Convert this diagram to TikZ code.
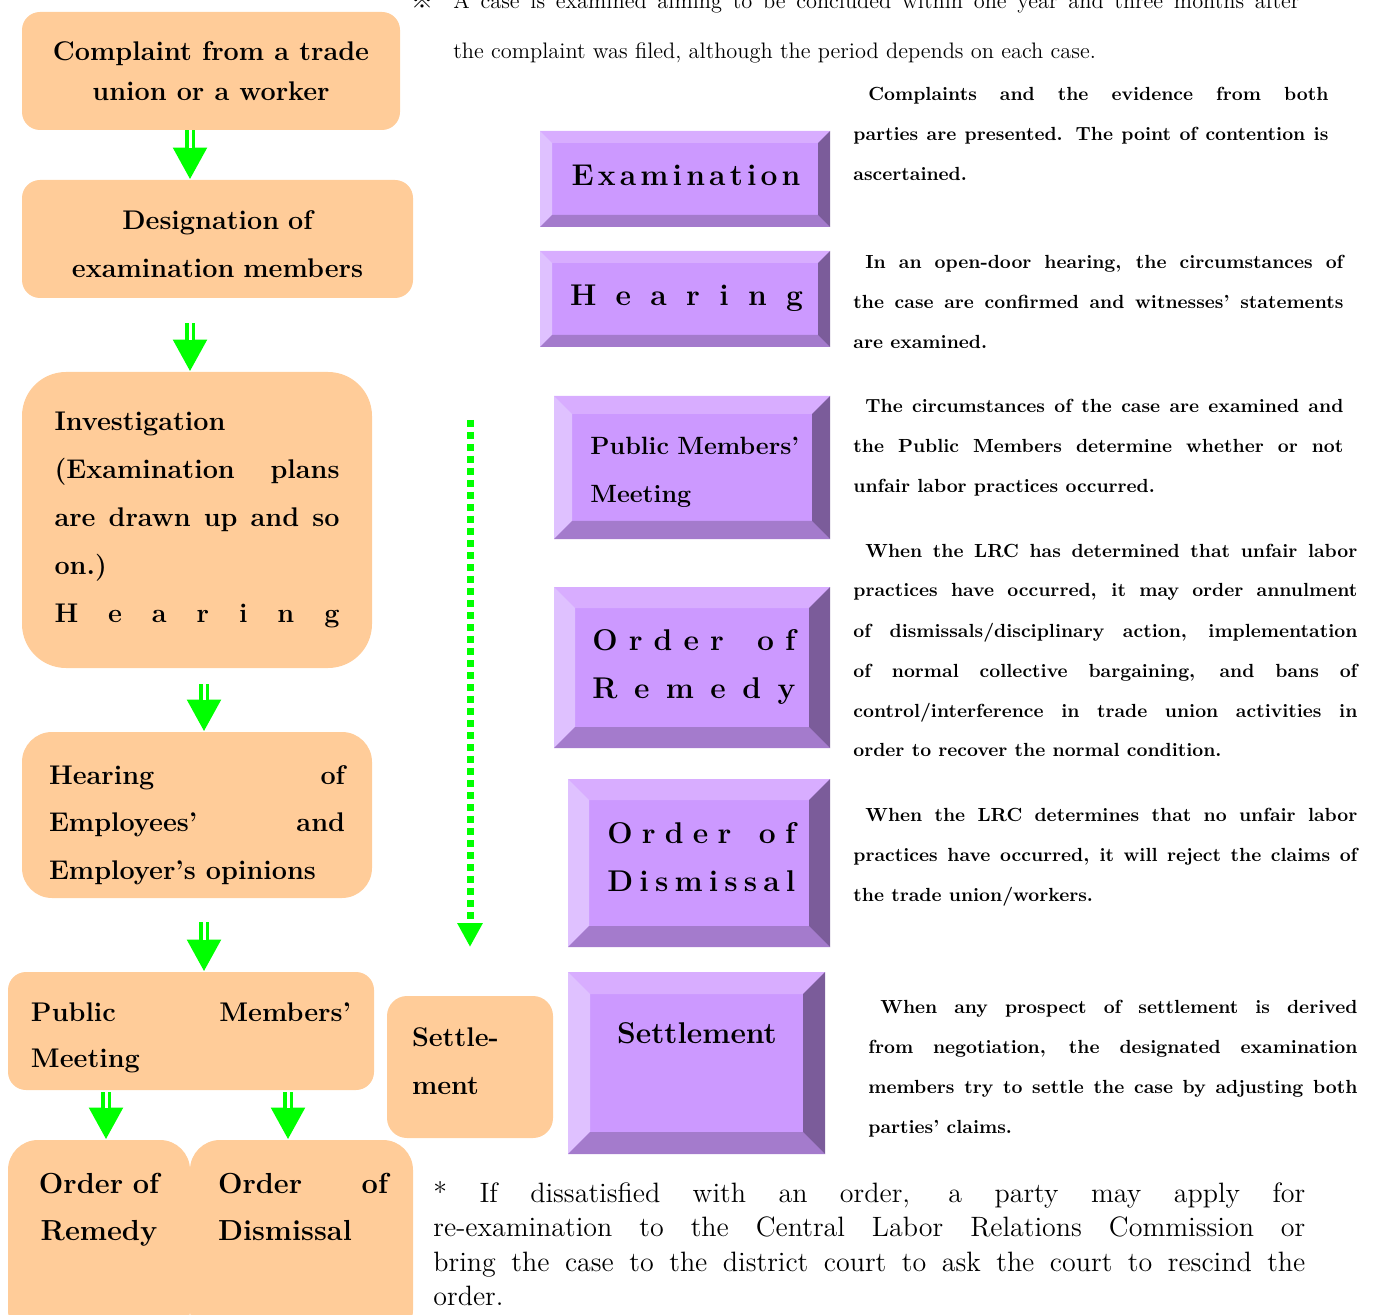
\documentclass[tikz,border=0pt]{standalone}
\usepackage{fontspec}
\newfontfamily\cjkfont{Noto Sans CJK JP}
\usetikzlibrary{arrows.meta}
\definecolor{boxorange}{HTML}{FFCC99}
\definecolor{flowgreen}{HTML}{00FF00}
\definecolor{bvface}{HTML}{CC99FF}
\definecolor{bvtop}{HTML}{D8ADFF}
\definecolor{bvleft}{HTML}{DFC1FF}
\definecolor{bvbottom}{HTML}{A47BCC}
\definecolor{bvright}{HTML}{7B5C9A}
\tolerance=10000
\hbadness=10000
% letters spread over a given width
\newcommand\spreadout[2]{\makebox[#1][s]{\spaceskip=0pt plus 1fil\relax #2}}
% bevelled purple button: x1 y1 x2 y2 depth
\newcommand\bevelbox[5]{%
  \fill[bvface] (#1,#2) rectangle (#3,#4);
  \fill[bvtop] (#1,#2) -- (#3,#2) -- (#3-#5,#2+#5) -- (#1+#5,#2+#5) -- cycle;
  \fill[bvleft] (#1,#2) -- (#1+#5,#2+#5) -- (#1+#5,#4-#5) -- (#1,#4) -- cycle;
  \fill[bvbottom] (#1,#4) -- (#1+#5,#4-#5) -- (#3-#5,#4-#5) -- (#3,#4) -- cycle;
  \fill[bvright] (#3,#2) -- (#3,#4) -- (#3-#5,#4-#5) -- (#3-#5,#2+#5) -- cycle;}
\begin{document}
\begin{tikzpicture}[x=0.5pt,y=-0.5pt,
  obox/.style={fill=boxorange,inner sep=0pt,font=\bfseries\fontsize{13.5pt}{24pt}\selectfont},
  flow/.style={draw=flowgreen,line width=5pt,-{Triangle[width=16pt,length=16pt]}},
  flowgap/.style={draw=white,line width=1.5pt,shorten >=16pt},
  dotflow/.style={draw=flowgreen,line width=3.5pt,dash pattern=on 3.5pt off 2.5pt,-{Triangle[width=12pt,length=12pt]}},
  ptext/.style={inner sep=0pt,font=\bfseries\fontsize{15pt}{24pt}\selectfont},
  desc/.style={anchor=base west,inner sep=0pt,align=justify,font=\bfseries\fontsize{9.5pt}{20pt}\selectfont},
  note/.style={anchor=base west,inner sep=0pt,align=justify}]
\useasboundingbox (0,0) rectangle (1375,1315);

% left column
\node[obox,rounded corners=9pt,minimum width=189pt,minimum height=59pt,align=center,
  font=\bfseries\fontsize{13.5pt}{20pt}\selectfont] (cmp) at (211,71)
  {Complaint from a trade\\union or a worker};
\node[obox,rounded corners=9pt,minimum width=195.5pt,minimum height=59pt,text width=190pt,align=center,text height=14.5pt] (dsg) at (217.5,239)
  {Designation of\\examination members};
\node[obox,rounded corners=22pt,minimum width=175pt,minimum height=148pt,text width=142.5pt,align=justify] (inv) at (197,520)
  {Investigation\\(Examination plans\linebreak are drawn up and so\linebreak on.)\\\spreadout{\linewidth}{H e a r i n g}};
\node[obox,rounded corners=15pt,minimum width=175pt,minimum height=83pt,text width=148pt,align=justify,text height=19.5pt,
  font=\bfseries\fontsize{13.5pt}{23.75pt}\selectfont] (hoe) at (197,815)
  {Hearing of\linebreak Employees' and\linebreak Employer's opinions};
\node[obox,rounded corners=9pt,minimum width=183pt,minimum height=59pt,text width=160pt,align=justify,text height=16.5pt,
  font=\bfseries\fontsize{13.5pt}{23pt}\selectfont] (pmm) at (191,1031)
  {Public Members'\linebreak Meeting};
\node[obox,rounded corners=15pt,minimum width=91pt,minimum height=100pt] (ordR) at (99,1240) {};
\node[obox,rounded corners=15pt,minimum width=111.5pt,minimum height=100pt] (ordD) at (301.5,1240) {};
\node[anchor=base,inner sep=0pt,text width=82pt,align=center,font=\bfseries\fontsize{14.5pt}{23.5pt}\selectfont] (ordRlbl) at (99,1193)
  {Order of\\Remedy};
\node[anchor=base,inner sep=0pt,text width=85pt,align=justify,font=\bfseries\fontsize{14.5pt}{23.5pt}\selectfont] (ordDlbl) at (303,1193)
  {Order of\linebreak Dismissal};
\node[obox,rounded corners=10pt,minimum width=83pt,minimum height=71pt,text width=58pt,align=left,text depth=30pt] (stl) at (470,1067)
  {Settle-\\ment};

% arrows
\foreach \x/\a/\b/\s in {190/cmp/dsg/0,190/dsg/inv/25,204/inv/hoe/16,204/hoe/pmm/24,106/pmm/ordR/2,288/pmm/ordD/2}{
  \coordinate (ax) at (\x,0);
  \draw[flow,shorten <=\s*0.5pt] (ax |- \a.south) -- (ax |- \b.north);
  \draw[flowgap,shorten <=\s*0.5pt] (ax |- \a.south) -- (ax |- \b.north);
}
\coordinate (wTop) at (470,420);
\coordinate (wEnd) at (470,947);
\draw[dotflow] (wTop) -- (wEnd);

% purple buttons
\bevelbox{540}{131}{830}{227}{12}
\bevelbox{540}{251}{830}{347}{12}
\bevelbox{554}{396}{830}{539}{18}
\bevelbox{554}{587}{830}{748}{21}
\bevelbox{568}{779}{830}{947}{21}
\bevelbox{568}{972}{825}{1154}{22}
\node[ptext,anchor=base] (exmT) at (686,186) {\spreadout{114.5pt}{E x a m i n a t i o n}};
\node[ptext,anchor=base] (hrgT) at (686.5,306) {\spreadout{116.5pt}{H e a r i n g}};
\node[ptext,anchor=base west,text width=110pt,align=left,font=\bfseries\fontsize{12.5pt}{24pt}\selectfont] (pmbT) at (590,455)
  {Public Members'\\Meeting};
\node[ptext,anchor=base west,text width=101.5pt,align=left] (remT) at (592,650)
  {\spreadout{\linewidth}{O r d e r\hfil\hfil\ o f}\\\spreadout{\linewidth}{R e m e d y}};
\node[ptext,anchor=base west,text width=94pt,align=left] (disT) at (607,843)
  {\spreadout{\linewidth}{O r d e r\hfil\hfil\ o f}\\\spreadout{\linewidth}{D i s m i s s a l}};
\node[ptext,anchor=base] (stlT) at (697,1043) {Settlement};

% descriptions
\node[desc,text width=237.5pt] (dsc1) at (853,101)
  {\hspace*{7.5pt}Complaints and the evidence from both\linebreak parties are presented. The point of contention is\linebreak ascertained.};
\node[desc,text width=245pt] (dsc2) at (853,269)
  {\hspace*{6pt}In an open-door hearing, the circumstances of\linebreak the case are confirmed and witnesses' statements\linebreak are examined.};
\node[desc,text width=245pt] (dsc3) at (853,413)
  {\hspace*{6pt}The circumstances of the case are examined and\linebreak the Public Members determine whether or not\linebreak unfair labor practices occurred.};
\node[desc,text width=252pt] (dsc4) at (853,557)
  {\hspace*{6pt}When the LRC has determined that unfair labor\linebreak practices have occurred, it may order annulment\linebreak of dismissals/disciplinary action, implementation\linebreak of normal collective bargaining, and bans of\linebreak control/interference in trade union activities in\linebreak order to recover the normal condition.};
\node[desc,text width=252pt] (dsc5) at (853,821)
  {\hspace*{6pt}When the LRC determines that no unfair labor\linebreak practices have occurred, it will reject the claims of\linebreak the trade union/workers.};
\node[desc,text width=244.5pt] (dsc6) at (868,1013)
  {\hspace*{6pt}When any prospect of settlement is derived\linebreak from negotiation, the designated examination\linebreak members try to settle the case by adjusting both\linebreak parties' claims.};

% notes
\node[note,font=\cjkfont\fontsize{11pt}{11pt}\selectfont] (tmark) at (411,9) {※};
\node[note,text width=423pt,font=\fontsize{11.2pt}{25pt}\selectfont] (tnote) at (453,9)
  {A case is examined aiming to be concluded within one year and three months after\linebreak the complaint was filed, although the period depends on each case.};
\node[note,text width=436pt,font=\fontsize{14pt}{17.25pt}\selectfont] (bnote) at (433,1202)
  {* If dissatisfied with an order, a party may apply for\linebreak re-examination to the Central Labor Relations Commission or\linebreak bring the case to the district court to ask the court to rescind the\linebreak order.};
\end{tikzpicture}
\end{document}
